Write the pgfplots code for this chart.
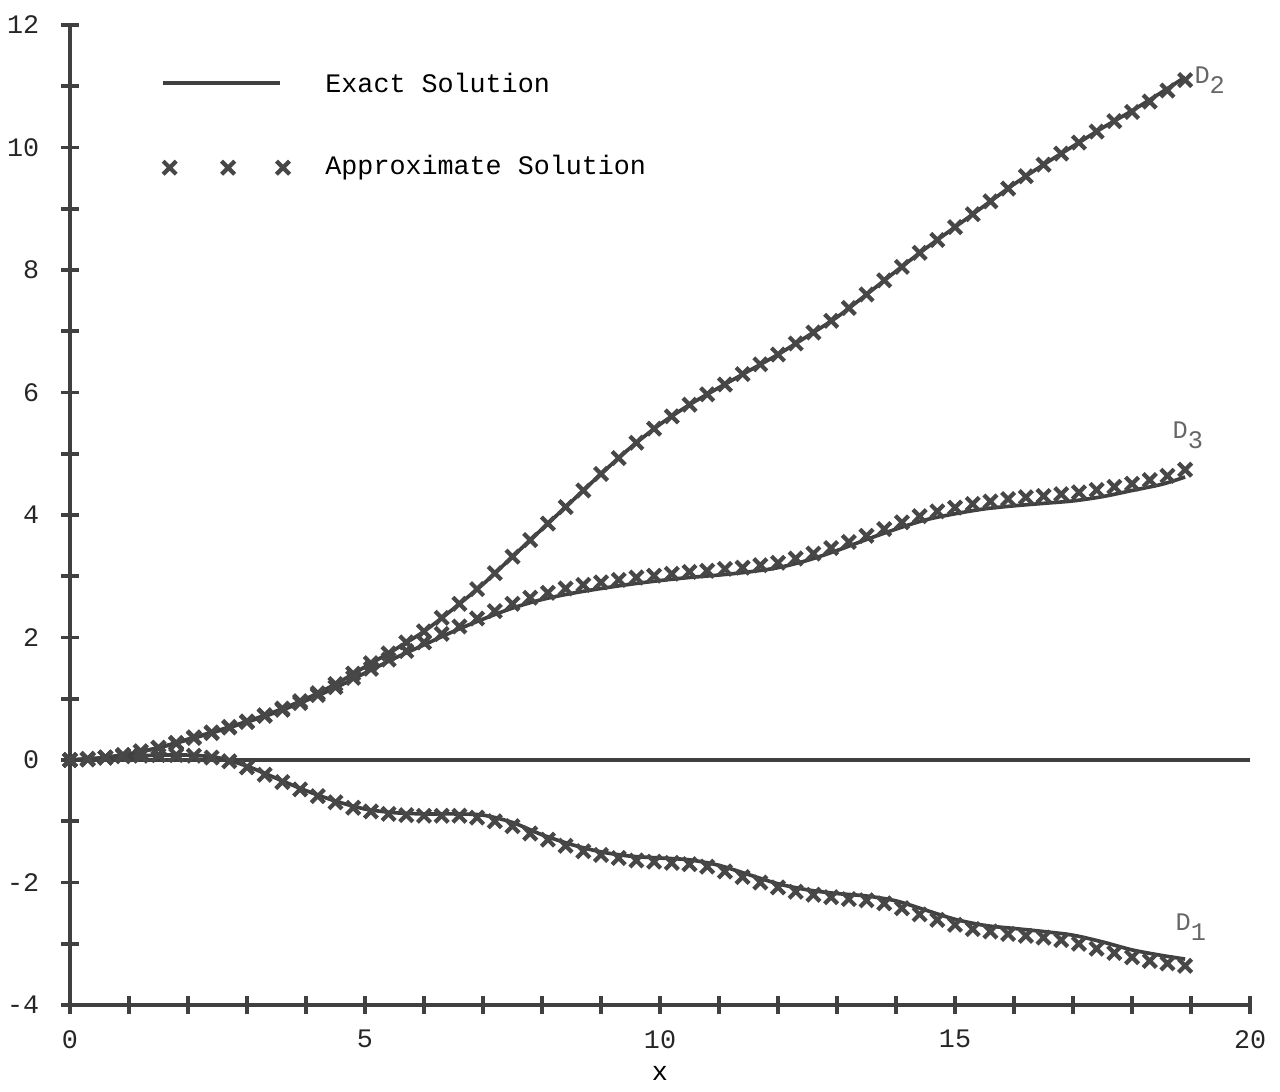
\documentclass[border=0pt]{standalone}
\usepackage{pgfplots}
\pgfplotsset{compat=1.18}
\usepackage{pgfplotstable}
\usepackage{fontspec}
\setmainfont{Liberation Mono}
\setmonofont{Liberation Mono}

\pgfplotstableread{
x    d1     d2     d3
0.0  0.00   0.00   0.00
0.5  0.03   0.03   0.03
1.0  0.06   0.10   0.10
1.5  0.08   0.20   0.20
2.0  0.08   0.34   0.33
2.5  0.04   0.48   0.47
3.0  -0.10  0.63   0.62
3.5  -0.30  0.80   0.78
4.0  -0.50  1.00   0.97
4.5  -0.67  1.24   1.18
5.0  -0.80  1.52   1.42
5.5  -0.86  1.80   1.66
6.0  -0.88  2.10   1.88
6.5  -0.88  2.47   2.10
7.0  -0.90  2.87   2.30
7.5  -1.02  3.32   2.48
8.0  -1.22  3.77   2.62
8.5  -1.38  4.22   2.72
9.0  -1.50  4.67   2.80
9.5  -1.57  5.10   2.87
10.0 -1.60  5.48   2.93
10.5 -1.63  5.80   2.98
11.0 -1.72  6.08   3.02
11.5 -1.87  6.35   3.07
12.0 -2.02  6.62   3.14
12.5 -2.12  6.92   3.26
13.0 -2.18  7.23   3.42
13.5 -2.22  7.60   3.60
14.0 -2.30  7.98   3.77
14.5 -2.45  8.35   3.92
15.0 -2.60  8.70   4.02
15.5 -2.70  9.05   4.10
16.0 -2.75  9.40   4.15
16.5 -2.80  9.72   4.19
17.0 -2.86  10.02  4.23
17.5 -2.97  10.32  4.30
18.0 -3.10  10.60  4.40
18.5 -3.19  10.90  4.50
18.9 -3.25  11.15  4.62
}\exacttable

\pgfplotstableread{
x    d1     d2     d3
0.0  0.00   0.00   0.00
0.3  0.02   0.01   0.01
0.6  0.04   0.04   0.04
0.9  0.06   0.08   0.08
1.2  0.07   0.14   0.14
1.5  0.08   0.20   0.20
1.8  0.08   0.28   0.27
2.1  0.07   0.37   0.36
2.4  0.04   0.45   0.44
2.7  -0.02  0.54   0.53
3.0  -0.12  0.63   0.62
3.3  -0.24  0.73   0.72
3.6  -0.36  0.84   0.82
3.9  -0.48  0.96   0.93
4.2  -0.59  1.09   1.06
4.5  -0.69  1.24   1.19
4.8  -0.78  1.41   1.34
5.1  -0.84  1.58   1.49
5.4  -0.88  1.74   1.64
5.7  -0.90  1.92   1.78
6.0  -0.91  2.10   1.92
6.3  -0.91  2.32   2.06
6.6  -0.91  2.55   2.18
6.9  -0.94  2.79   2.31
7.2  -1.00  3.05   2.43
7.5  -1.08  3.32   2.55
7.8  -1.20  3.59   2.65
8.1  -1.30  3.86   2.73
8.4  -1.40  4.13   2.80
8.7  -1.49  4.40   2.86
9.0  -1.55  4.67   2.90
9.3  -1.60  4.93   2.94
9.6  -1.64  5.18   2.98
9.9  -1.66  5.41   3.01
10.2 -1.68  5.61   3.04
10.5 -1.70  5.80   3.07
10.8 -1.74  5.97   3.09
11.1 -1.82  6.13   3.12
11.4 -1.91  6.30   3.14
11.7 -2.00  6.46   3.18
12.0 -2.08  6.62   3.22
12.3 -2.15  6.80   3.29
12.6 -2.20  6.98   3.37
12.9 -2.24  7.17   3.46
13.2 -2.27  7.38   3.56
13.5 -2.29  7.60   3.66
13.8 -2.34  7.83   3.77
14.1 -2.42  8.05   3.88
14.4 -2.52  8.28   3.98
14.7 -2.61  8.49   4.06
15.0 -2.69  8.70   4.12
15.3 -2.76  8.91   4.18
15.6 -2.80  9.12   4.22
15.9 -2.84  9.33   4.26
16.2 -2.87  9.53   4.29
16.5 -2.90  9.72   4.31
16.8 -2.94  9.90   4.34
17.1 -3.00  10.08  4.37
17.4 -3.08  10.26  4.41
17.7 -3.15  10.43  4.46
18.0 -3.22  10.58  4.51
18.3 -3.28  10.75  4.57
18.6 -3.32  10.93  4.64
18.9 -3.36  11.10  4.74
}\approxtable

\begin{document}
\begin{tikzpicture}
\begin{axis}[
  width=14.75cm, height=12.25cm, scale only axis,
  xmin=0, xmax=20, ymin=-4, ymax=12,
  axis x line=bottom, axis y line=left,
  axis line style={-, line width=1.3pt, black!75},
  xtick={0,5,10,15,20},
  minor xtick={1,2,3,4,6,7,8,9,11,12,13,14,16,17,18,19},
  ytick={-4,-2,0,2,4,6,8,10,12},
  minor ytick={-3,-1,1,3,5,7,9,11},
  tick align=center,
  major tick length=0.22cm, minor tick length=0.22cm,
  every tick/.style={line width=1.3pt, black!75},
  ticklabel style={font=\fontsize{9.5}{11}\selectfont, black!85},
  /pgf/number format/assume math mode=true,
  yticklabel style={xshift=-0.15cm},
  xticklabel style={yshift=-0.08cm},
  xlabel={x},
  xlabel style={font=\fontsize{9.5}{11}\selectfont, at={(axis description cs:0.5,0)}, anchor=center, yshift=-0.86cm},
  clip=false,
  approx/.style={only marks, mark=x, mark size=3.3pt, mark options={line width=1.5pt, black!72}},
]
\addplot[line width=1.3pt, black!75] coordinates {(0,0) (20,0)};

\addplot[line width=1.3pt, black!75, smooth] table[x=x, y=d2] {\exacttable};
\addplot[line width=1.3pt, black!75, smooth] table[x=x, y=d3] {\exacttable};
\addplot[line width=1.3pt, black!75, smooth] table[x=x, y=d1] {\exacttable};

\addplot[approx] table[x=x, y=d2] {\approxtable};
\addplot[approx] table[x=x, y=d3] {\approxtable};
\addplot[approx] table[x=x, y=d1] {\approxtable};

% legend
\addplot[line width=1.3pt, black!75] coordinates {(1.58,11.05) (3.56,11.05)};
\addplot[approx] coordinates {(1.69,9.67) (2.68,9.67) (3.61,9.67)};
\node[anchor=west, inner sep=0pt, font=\fontsize{9.5}{11}\selectfont] at (axis cs:4.32,11.05) {Exact Solution};
\node[anchor=west, inner sep=0pt, font=\fontsize{9.5}{11}\selectfont] at (axis cs:4.32,9.67) {Approximate Solution};

% curve labels
\node[anchor=west, inner sep=0pt, font=\fontsize{9}{10}\selectfont, black!60] at (axis cs:19.05,11.1) {D\raisebox{-0.7ex}{2}};
\node[anchor=west, inner sep=0pt, font=\fontsize{9}{10}\selectfont, black!60] at (axis cs:18.68,5.3) {D\raisebox{-0.7ex}{3}};
\node[anchor=west, inner sep=0pt, font=\fontsize{9}{10}\selectfont, black!60] at (axis cs:18.73,-2.73) {D\raisebox{-0.7ex}{1}};

\coordinate (bbSW) at (rel axis cs:-0.0593,-0.0878);
\coordinate (bbNE) at (rel axis cs:1.0254,1.0255);
\end{axis}
\pgfresetboundingbox
\path[use as bounding box] (bbSW) rectangle (bbNE);
\end{tikzpicture}
\end{document}
